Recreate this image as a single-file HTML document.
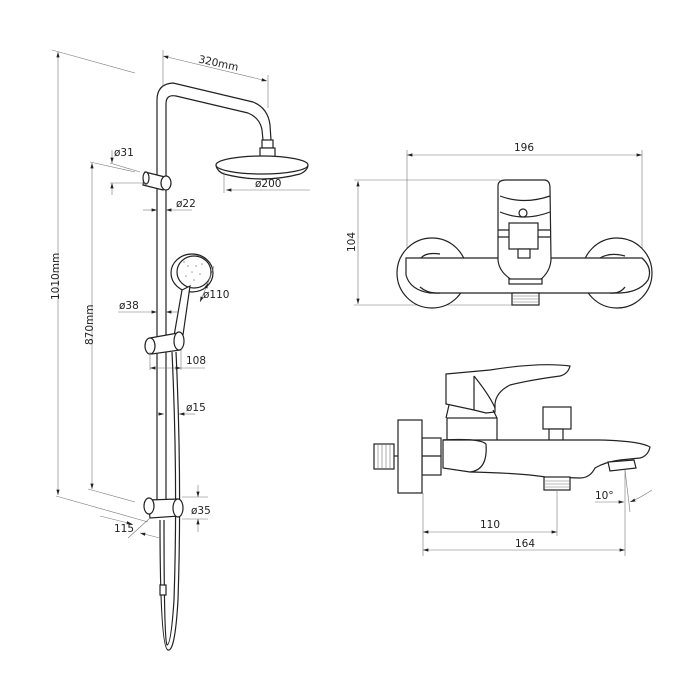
<!DOCTYPE html>
<html><head><meta charset="utf-8"><style>
html,body{margin:0;padding:0;background:#fff}
svg{display:block}
text{font-family:"DejaVu Sans","Liberation Sans",sans-serif;font-size:10.5px;fill:#222}
.o{fill:none;stroke:#222;stroke-width:1.2}
.d{fill:none;stroke:#777;stroke-width:0.6}
.w{fill:#fff;stroke:#222;stroke-width:1.2}
</style></head><body>
<svg width="700" height="700" viewBox="0 0 700 700" xmlns="http://www.w3.org/2000/svg">
<defs><marker id="a" viewBox="0 0 10 10" refX="10" refY="5" markerWidth="9" markerHeight="9" orient="auto-start-reverse"><path d="M0,2L10,5L0,8z" fill="#222"/></marker></defs>

<path class="o" d="M157,512 L157,100 Q157,84 173,83 L253,102 Q268,108 270,125 L271,140"/>
<path class="o" d="M166,512 L166,104 Q166,94 176,96 L248,113 Q260,118 262,130 L263,140"/>
<rect class="w" x="262" y="140" width="11" height="8"/>
<rect class="w" x="260" y="148" width="15" height="10"/>
<ellipse class="w" cx="262" cy="165" rx="46" ry="9"/>
<path class="o" d="M216,166 Q218,172 224,174 Q262,184 300,174 Q307,171 308,166"/>
<line class="d" x1="163" y1="50" x2="163" y2="86"/>
<line class="d" x1="268" y1="75" x2="268" y2="108"/>
<line class="d" x1="163" y1="56" x2="267" y2="81" marker-start="url(#a)" marker-end="url(#a)"/>
<text x="198" y="66" transform="rotate(12 215 64)">320mm</text>
<line class="d" x1="224" y1="172" x2="224" y2="193"/>
<line class="d" x1="226" y1="190" x2="310" y2="190" marker-start="url(#a)"/>
<text x="255" y="187">ø200</text>
<path class="w" d="M145,172 L165,177 L163,190 L143,185 Z"/>
<ellipse class="w" cx="166" cy="183" rx="5" ry="7"/>
<ellipse class="w" cx="146" cy="178" rx="3" ry="6"/>
<line class="d" x1="90" y1="162" x2="135" y2="172"/>
<line class="d" x1="110" y1="163" x2="140" y2="172"/>
<line class="d" x1="110" y1="183" x2="148" y2="183"/>
<line class="d" x1="112" y1="150" x2="112" y2="163" marker-end="url(#a)"/>
<line class="d" x1="112" y1="195" x2="112" y2="183" marker-end="url(#a)"/>
<text x="114" y="156">ø31</text>
<line class="d" x1="143" y1="210" x2="157" y2="210" marker-end="url(#a)"/>
<line class="d" x1="192" y1="210" x2="166" y2="210" marker-end="url(#a)"/>
<text x="176" y="207">ø22</text>
<ellipse class="w" cx="192" cy="273" rx="21" ry="19"/>
<ellipse class="o" cx="194" cy="272" rx="17" ry="16"/>
<g fill="#999"><circle cx="188" cy="266" r="0.8"/><circle cx="196" cy="266" r="0.8"/><circle cx="192" cy="272" r="0.8"/><circle cx="200" cy="274" r="0.8"/><circle cx="186" cy="276" r="0.8"/><circle cx="194" cy="280" r="0.8"/><circle cx="202" cy="264" r="0.8"/><circle cx="184" cy="262" r="0.8"/></g>
<path class="w" d="M182,290 L190,286 L183,335 L174,336 Z"/>
<line class="d" x1="208" y1="283" x2="200" y2="302" marker-start="url(#a)" marker-end="url(#a)"/>
<line class="d" x1="214" y1="266" x2="208" y2="283" />
<text x="203" y="298">ø110</text>
<path class="w" d="M150,338 L178,333 L180,350 L152,354 Z"/>
<ellipse class="w" cx="150" cy="346" rx="5" ry="8"/>
<ellipse class="w" cx="179" cy="341" rx="5" ry="9"/>
<line class="d" x1="118" y1="312" x2="157" y2="312" marker-end="url(#a)"/>
<line class="d" x1="178" y1="312" x2="166" y2="312" marker-end="url(#a)"/>
<text x="119" y="309">ø38</text>
<line class="d" x1="150" y1="352" x2="150" y2="370"/>
<line class="d" x1="181" y1="350" x2="181" y2="370"/>
<line class="d" x1="150" y1="368" x2="181" y2="368" marker-start="url(#a)" marker-end="url(#a)"/>
<line class="d" x1="181" y1="368" x2="205" y2="368"/>
<text x="186" y="364">108</text>
<line class="d" x1="157" y1="414" x2="164" y2="414" marker-end="url(#a)"/>
<line class="d" x1="195" y1="414" x2="179" y2="414" marker-end="url(#a)"/>
<text x="186" y="411">ø15</text>
<path class="o" d="M176,352 Q182,480 178,600 Q175,652 168,650 Q160,648 160,520"/>
<path class="o" d="M172,352 Q178,480 174,600 Q171,645 167,645 Q164,640 164,520"/>
<rect class="w" x="160" y="585" width="6" height="10"/>
<path class="w" d="M148,500 L178,499 L180,516 L150,518 Z"/>
<ellipse class="w" cx="149" cy="506" rx="5" ry="8"/>
<ellipse class="w" cx="178" cy="508" rx="5" ry="9"/>
<line class="d" x1="182" y1="497" x2="208" y2="497"/>
<line class="d" x1="182" y1="519" x2="208" y2="519"/>
<line class="d" x1="198" y1="485" x2="198" y2="497" marker-end="url(#a)"/>
<line class="d" x1="198" y1="532" x2="198" y2="519" marker-end="url(#a)"/>
<text x="191" y="514">ø35</text>
<line class="d" x1="52" y1="50" x2="135" y2="73"/>
<line class="d" x1="58" y1="52" x2="58" y2="495" marker-start="url(#a)" marker-end="url(#a)"/>
<text x="59" y="300" transform="rotate(-90 59 300)">1010mm</text>
<line class="d" x1="56" y1="496" x2="148" y2="522"/>
<line class="d" x1="92" y1="163" x2="92" y2="489" marker-start="url(#a)" marker-end="url(#a)"/>
<text x="93" y="345" transform="rotate(-90 93 345)">870mm</text>
<line class="d" x1="88" y1="489" x2="135" y2="502"/>
<line class="d" x1="100" y1="516" x2="132" y2="524" marker-end="url(#a)"/>
<line class="d" x1="150" y1="518" x2="128" y2="538"/>
<line class="d" x1="160" y1="538" x2="140" y2="533" marker-end="url(#a)"/>
<text x="114" y="532">115</text>

<line class="d" x1="407" y1="150" x2="407" y2="252"/>
<line class="d" x1="642" y1="150" x2="642" y2="252"/>
<line class="d" x1="407" y1="155" x2="642" y2="155" marker-start="url(#a)" marker-end="url(#a)"/>
<text x="514" y="151">196</text>
<line class="d" x1="354" y1="180" x2="500" y2="180"/>
<line class="d" x1="354" y1="305" x2="513" y2="305"/>
<line class="d" x1="358" y1="181" x2="358" y2="304" marker-start="url(#a)" marker-end="url(#a)"/>
<text x="355" y="252" transform="rotate(-90 355 252)">104</text>
<circle class="w" cx="432" cy="273" r="35"/>
<circle class="w" cx="617" cy="273" r="35"/>
<path class="w" d="M406,258 L642,258 Q653,268 648,280 Q640,292 620,293 L430,293 Q410,290 406,275 Z"/>
<path class="o" d="M421,258 Q426,252 440,254 M600,258 Q610,252 625,256 M420,287 Q428,294 440,293 M610,293 Q620,294 625,287"/>
<path class="w" d="M498,186 Q498,180 506,180 L544,180 Q550,180 550,188 L551,260 Q550,272 540,280 L512,280 Q499,272 498,260 Z"/>
<path class="o" d="M500,196 Q524,205 550,196"/>
<path class="o" d="M500,212 Q524,222 550,212"/>
<line class="o" x1="498" y1="230" x2="551" y2="230"/>
<line class="o" x1="498" y1="237" x2="551" y2="237"/>
<circle class="w" cx="523" cy="213" r="4"/>
<rect class="w" x="509" y="223" width="29" height="26"/>
<rect class="w" x="518" y="249" width="12" height="9"/>
<rect class="w" x="509" y="279" width="33" height="5" fill="#555"/>
<rect class="w" x="512" y="293" width="27" height="12"/>
<path class="d" d="M512,296H539M512,299H539M512,302H539"/>

<path class="w" d="M446,374 L490,370 Q540,362 570,366 Q568,374 560,376 Q530,380 510,385 Q496,392 495,404 L495,412 L486,413 L474,410 L446,404 Z"/>
<path class="o" d="M474,376 L474,410 M474,376 Q490,396 495,408"/>
<rect class="w" x="447" y="418" width="50" height="23"/>
<path class="o" d="M449,405 L446,418 M493,410 L497,418"/>
<rect class="w" x="543" y="407" width="28" height="22"/>
<rect class="w" x="549" y="429" width="14" height="12"/>
<path class="w" d="M443,440 L600,440 Q640,441 650,447 Q648,456 640,458 L620,460 Q605,462 595,468 Q590,478 580,478 L545,477 Q520,473 470,472 L443,468 Z"/>
<path class="o" d="M443,440 Q480,438 486,444 Q488,470 470,472"/>
<path class="w" d="M608,462 L634,460 L636,468 L610,471 Z"/>
<rect class="w" x="544" y="477" width="26" height="13"/>
<path class="d" d="M544,481H570M544,484H570M544,487H570"/>
<rect class="w" x="422" y="438" width="19" height="37"/>
<line class="o" x1="422" y1="456" x2="441" y2="456"/>
<rect class="w" x="398" y="420" width="24" height="73"/>
<rect class="w" x="374" y="444" width="20" height="25"/>
<path class="d" d="M378,444V469M382,444V469M386,444V469M390,444V469"/>
<line class="o" x1="394" y1="456" x2="398" y2="456"/>
<line class="d" x1="423" y1="493" x2="423" y2="556"/>
<line class="d" x1="557" y1="490" x2="557" y2="536"/>
<line class="d" x1="625" y1="470" x2="625" y2="556"/>
<line class="d" x1="423" y1="532" x2="557" y2="532" marker-start="url(#a)" marker-end="url(#a)"/>
<text x="480" y="528">110</text>
<line class="d" x1="423" y1="550" x2="625" y2="550" marker-start="url(#a)" marker-end="url(#a)"/>
<text x="515" y="547">164</text>
<line class="d" x1="595" y1="502" x2="624" y2="502" marker-end="url(#a)"/>
<path class="d" d="M652,490 Q640,498 630,502" marker-end="url(#a)"/>
<line class="d" x1="625" y1="470" x2="630" y2="512"/>
<text x="595" y="499">10°</text>
</svg>
</body></html>
